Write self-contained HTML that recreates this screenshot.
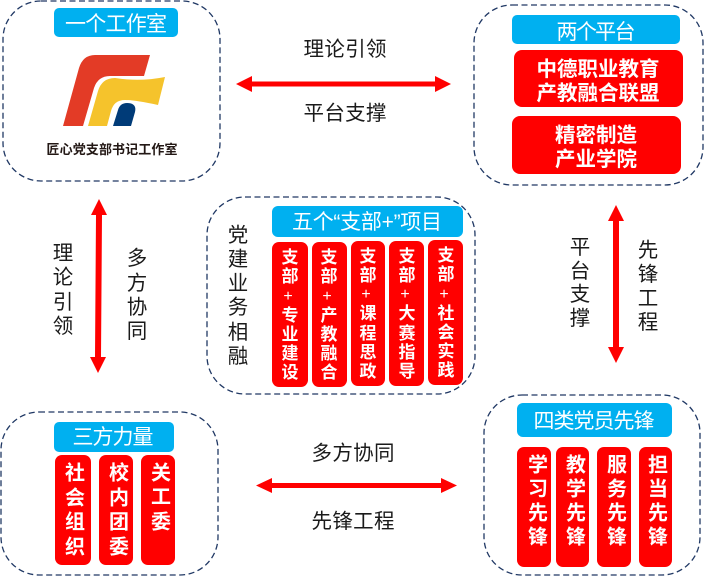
<!DOCTYPE html>
<html><head><meta charset="utf-8"><style>
html,body{margin:0;padding:0;background:#fff;width:707px;height:577px;overflow:hidden}
svg{display:block}
text{font-family:"Liberation Sans","Noto Sans CJK SC",sans-serif;text-anchor:middle;dominant-baseline:central;transform:translateY(1.5px)}
.k{font-size:20.5px;fill:#1a1a1a}
.h{font-size:21px;fill:#fff}
.w{font-size:20px;fill:#fff;font-weight:700}
.c{font-size:17px;fill:#fff;font-weight:700}
.q{font-size:16px;fill:#fff;font-weight:400}
.p{fill:none;stroke:#203864;stroke-width:1.3;stroke-dasharray:6 3.5}
.b{fill:#00b0f0}.r{fill:#f00}.a{fill:#f00}
</style></head><body>
<svg width="707" height="577" viewBox="0 0 707 577" xmlns="http://www.w3.org/2000/svg">
<rect class="p" x="3" y="1" width="217" height="180" rx="38"/>
<rect class="p" x="474" y="5" width="229" height="180" rx="38"/>
<rect class="p" x="207" y="197" width="268" height="197" rx="38"/>
<rect class="p" x="1" y="412" width="217" height="163" rx="38"/>
<rect class="p" x="484" y="395" width="216" height="180" rx="38"/>

<rect class="b" x="54" y="8" width="124" height="29" rx="5"/>
<rect class="b" x="512" y="15" width="168" height="29" rx="5"/>
<rect class="b" x="272" y="206" width="191" height="31" rx="6"/>
<rect class="b" x="54" y="422" width="120" height="30" rx="5"/>
<rect class="b" x="517" y="403" width="155" height="34" rx="6"/>

<text class="h" x="116" y="23" textLength="102">一个工作室</text>
<text class="h" x="596" y="31" textLength="79">两个平台</text>
<text class="h" x="367" y="221" textLength="150">五个“支部+”项目</text>
<text class="h" x="113" y="436" textLength="81">三方力量</text>
<text class="h" x="594" y="420" textLength="121">四类党员先锋</text>

<!-- logo -->
<path d="M63 126L79 68Q83 55 95 55L150 55L144 76L110 76Q98 76 94 88L83 126Z" fill="#e33b26"/>
<path d="M88 126L98 91Q102 78 115 78Q140 82 165 77L158 105Q135 100 125 100Q114 100 111 111L107 126Z" fill="#f5c32c"/>
<path d="M113 126L118 110Q120 103 127 103Q137 103 135 112L131 126Z" fill="#003b78"/>
<text x="112" y="148" style="font-size:13px;font-weight:700;fill:#231815" textLength="131">匠心党支部书记工作室</text>

<!-- top right -->
<rect class="r" x="514" y="50" width="169" height="57" rx="8"/>
<rect class="r" x="512" y="116" width="169" height="58" rx="8"/>
<text class="w" x="598" y="68" style="font-size:20.5px">中德职业教育</text>
<text class="w" x="598" y="92" style="font-size:20.5px">产教融合联盟</text>
<text class="w" x="596" y="134" style="font-size:20.5px">精密制造</text>
<text class="w" x="596" y="158" style="font-size:20.5px">产业学院</text>

<!-- center columns -->
<rect class="r" x="272" y="242" width="36" height="145" rx="7"/>
<rect class="r" x="312" y="242" width="35" height="145" rx="7"/>
<rect class="r" x="351" y="241" width="34" height="145" rx="7"/>
<rect class="r" x="389" y="241" width="35" height="145" rx="7"/>
<rect class="r" x="428" y="240" width="35" height="145" rx="7"/>
<g class="cols">
<text class="c" x="290" y="256">支</text><text class="c" x="290" y="275">部</text><text class="q" x="288" y="295">+</text><text class="c" x="290" y="314">专</text><text class="c" x="290" y="333">业</text><text class="c" x="290" y="352">建</text><text class="c" x="290" y="371">设</text>
<text class="c" x="329" y="256">支</text><text class="c" x="329" y="275">部</text><text class="q" x="327" y="295">+</text><text class="c" x="329" y="314">产</text><text class="c" x="329" y="333">教</text><text class="c" x="329" y="352">融</text><text class="c" x="329" y="371">合</text>
<text class="c" x="368" y="255">支</text><text class="c" x="368" y="274">部</text><text class="q" x="366" y="293">+</text><text class="c" x="368" y="312">课</text><text class="c" x="368" y="332">程</text><text class="c" x="368" y="351">思</text><text class="c" x="368" y="370">政</text>
<text class="c" x="407" y="255">支</text><text class="c" x="407" y="274">部</text><text class="q" x="405" y="293">+</text><text class="c" x="407" y="312">大</text><text class="c" x="407" y="332">赛</text><text class="c" x="407" y="351">指</text><text class="c" x="407" y="370">导</text>
<text class="c" x="446" y="254">支</text><text class="c" x="446" y="273">部</text><text class="q" x="444" y="293">+</text><text class="c" x="446" y="312">社</text><text class="c" x="446" y="331">会</text><text class="c" x="446" y="350">实</text><text class="c" x="446" y="369">践</text>
</g>
<text class="k" x="238" y="234">党</text><text class="k" x="238" y="258">建</text><text class="k" x="238" y="282">业</text><text class="k" x="238" y="306">务</text><text class="k" x="238" y="331">相</text><text class="k" x="238" y="355">融</text>

<!-- bottom left -->
<rect class="r" x="55" y="455" width="36" height="110" rx="7"/>
<rect class="r" x="99" y="455" width="34" height="110" rx="7"/>
<rect class="r" x="141" y="455" width="34" height="110" rx="7"/>
<text class="w" x="75" y="472">社</text><text class="w" x="75" y="497">会</text><text class="w" x="75" y="521">组</text><text class="w" x="75" y="546">织</text>
<text class="w" x="119" y="472">校</text><text class="w" x="119" y="497">内</text><text class="w" x="119" y="521">团</text><text class="w" x="119" y="546">委</text>
<text class="w" x="161" y="472">关</text><text class="w" x="161" y="496">工</text><text class="w" x="161" y="521">委</text>

<!-- bottom right -->
<rect class="r" x="517" y="447" width="34" height="120" rx="7"/>
<rect class="r" x="556" y="447" width="33" height="120" rx="7"/>
<rect class="r" x="597" y="447" width="34" height="120" rx="7"/>
<rect class="r" x="639" y="447" width="33" height="120" rx="7"/>
<text class="w" x="538" y="464">学</text><text class="w" x="538" y="488">习</text><text class="w" x="538" y="512">先</text><text class="w" x="538" y="536">锋</text>
<text class="w" x="576" y="464">教</text><text class="w" x="576" y="488">学</text><text class="w" x="576" y="512">先</text><text class="w" x="576" y="536">锋</text>
<text class="w" x="617" y="464">服</text><text class="w" x="617" y="488">务</text><text class="w" x="617" y="512">先</text><text class="w" x="617" y="536">锋</text>
<text class="w" x="658" y="464">担</text><text class="w" x="658" y="488">当</text><text class="w" x="658" y="512">先</text><text class="w" x="658" y="536">锋</text>

<!-- arrows -->
<path class="a" d="M236 84L252 76V81.500H435V76L451 84L435 92V86.500H252V92Z"/>
<path class="a" d="M256 485.500L272 478V483H441V478L457 485.500L441 493V488H272V493Z"/>
<path class="a" d="M99 199L107 215H102L101 357H106L98 373L90 357H95L96 215H91Z"/>
<path class="a" d="M616 205L624 221H619V347H624L616 363L608 347H613V221H608Z"/>

<!-- connector labels -->
<text class="k" x="345" y="48" textLength="83">理论引领</text>
<text class="k" x="345" y="112" textLength="83">平台支撑</text>
<text class="k" x="353" y="452" textLength="83">多方协同</text>
<text class="k" x="353" y="520" textLength="83">先锋工程</text>
<text class="k" x="63" y="252">理</text><text class="k" x="63" y="276">论</text><text class="k" x="63" y="301">引</text><text class="k" x="63" y="325">领</text>
<text class="k" x="137" y="257">多</text><text class="k" x="137" y="282">方</text><text class="k" x="137" y="306">协</text><text class="k" x="137" y="330">同</text>
<text class="k" x="580" y="246">平</text><text class="k" x="580" y="270">台</text><text class="k" x="580" y="293">支</text><text class="k" x="580" y="317">撑</text>
<text class="k" x="648" y="249">先</text><text class="k" x="648" y="273">锋</text><text class="k" x="648" y="297">工</text><text class="k" x="648" y="321">程</text>
</svg>
</body></html>
